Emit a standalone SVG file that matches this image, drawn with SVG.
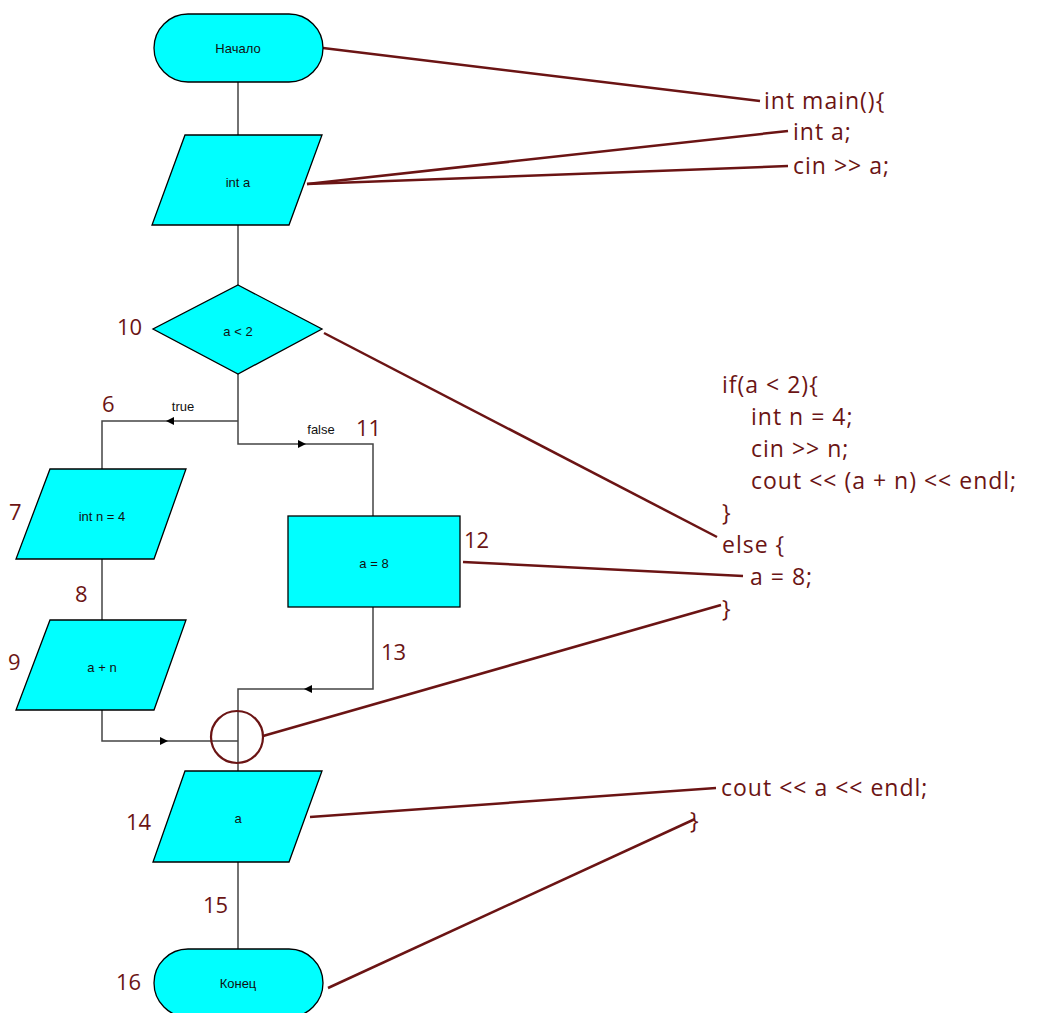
<svg xmlns="http://www.w3.org/2000/svg" width="1039" height="1013" viewBox="0 0 1039 1013">
<style>
.shape{fill:#00FFFF;stroke:#000;stroke-width:1.3}
.lbl{font-family:"Liberation Sans",Arial,sans-serif;font-size:13px;fill:#111;text-anchor:middle}
.flow{fill:none;stroke:#444;stroke-width:1.5}
.link{fill:none;stroke:#6B1414;stroke-width:2.5}
.num{font-family:"Open Sans","Noto Sans",sans-serif;font-size:22px;fill:#6B1414}
.code{font-family:"Open Sans","Noto Sans",sans-serif;font-size:23px;letter-spacing:1px;fill:#6B1414}
.arr{fill:#000}
</style>
<rect width="1039" height="1013" fill="#fff"/>
<g id="connectors">
<path class="flow" d="M238 82V135M238 225V285M238 374V444H373V516M238 421H102V469M102 559V620M102 710V741H238M373 607V689H238V771M238 862V950"/>
<polygon class="arr" points="166,421 174,417 174,425"/>
<polygon class="arr" points="306,444 298,440 298,448"/>
<polygon class="arr" points="304,689 312,685 312,693"/>
<polygon class="arr" points="168,741 160,737 160,745"/>
<text class="lbl" x="183" y="411">true</text>
<text class="lbl" x="321" y="434">false</text>
</g>
<g id="links">
<line class="link" x1="323" y1="48" x2="760" y2="101"/>
<line class="link" x1="307" y1="184" x2="788" y2="131"/>
<line class="link" x1="307" y1="184" x2="788" y2="166"/>
<line class="link" x1="324" y1="333" x2="717" y2="537"/>
<line class="link" x1="463" y1="562" x2="743" y2="576"/>
<line class="link" x1="263" y1="736" x2="721" y2="605"/>
<line class="link" x1="310" y1="817" x2="716" y2="788"/>
<line class="link" x1="328" y1="988" x2="695" y2="819"/>
</g>
<g id="start"><rect class="shape" x="154" y="14" width="169" height="68" rx="34"/><text class="lbl" x="238" y="53">Начало</text></g>
<g id="input-a"><polygon class="shape" points="185,135 322,135 289,225 152,225"/><text class="lbl" x="238" y="187">int a</text></g>
<g id="decision"><polygon class="shape" points="238,285 322,329 238,374 153,329"/><text class="lbl" x="238" y="336">a &lt; 2</text></g>
<g id="int-n"><polygon class="shape" points="50,469 186,469 154,559 16,559"/><text class="lbl" x="102" y="521">int n = 4</text></g>
<g id="out-an"><polygon class="shape" points="50,620 186,620 154,710 16,710"/><text class="lbl" x="102" y="672">a + n</text></g>
<g id="assign"><rect class="shape" x="288" y="516" width="172" height="91"/><text class="lbl" x="374" y="568">a = 8</text></g>
<g id="join"><circle cx="237" cy="737" r="26" fill="none" stroke="#6B1414" stroke-width="2.2"/></g>
<g id="out-a"><polygon class="shape" points="185,771 322,771 289,862 153,862"/><text class="lbl" x="238" y="823">a</text></g>
<g id="end"><rect class="shape" x="154" y="949" width="169" height="68" rx="34"/><text class="lbl" x="238" y="988">Конец</text></g>
<g id="numbers">
<text class="num" x="117" y="335">10</text>
<text class="num" x="102" y="412">6</text>
<text class="num" x="356" y="436">11</text>
<text class="num" x="9" y="520">7</text>
<text class="num" x="464" y="548">12</text>
<text class="num" x="75" y="602">8</text>
<text class="num" x="8" y="670">9</text>
<text class="num" x="381" y="660">13</text>
<text class="num" x="126" y="830">14</text>
<text class="num" x="203" y="913">15</text>
<text class="num" x="116" y="990">16</text>
</g>
<g id="code">
<text class="code" x="764" y="109">int main(){</text>
<text class="code" x="793" y="140">int a;</text>
<text class="code" x="793" y="174">cin &gt;&gt; a;</text>
<text class="code" x="722" y="393">if(a &lt; 2){</text>
<text class="code" x="751" y="425">int n = 4;</text>
<text class="code" x="751" y="457">cin &gt;&gt; n;</text>
<text class="code" x="751" y="489">cout &lt;&lt; (a + n) &lt;&lt; endl;</text>
<text class="code" x="722" y="521">}</text>
<text class="code" x="722" y="553">else {</text>
<text class="code" x="750" y="585">a = 8;</text>
<text class="code" x="722" y="617">}</text>
<text class="code" x="721" y="796">cout &lt;&lt; a &lt;&lt; endl;</text>
<text class="code" x="690" y="829">}</text>
</g>
</svg>
